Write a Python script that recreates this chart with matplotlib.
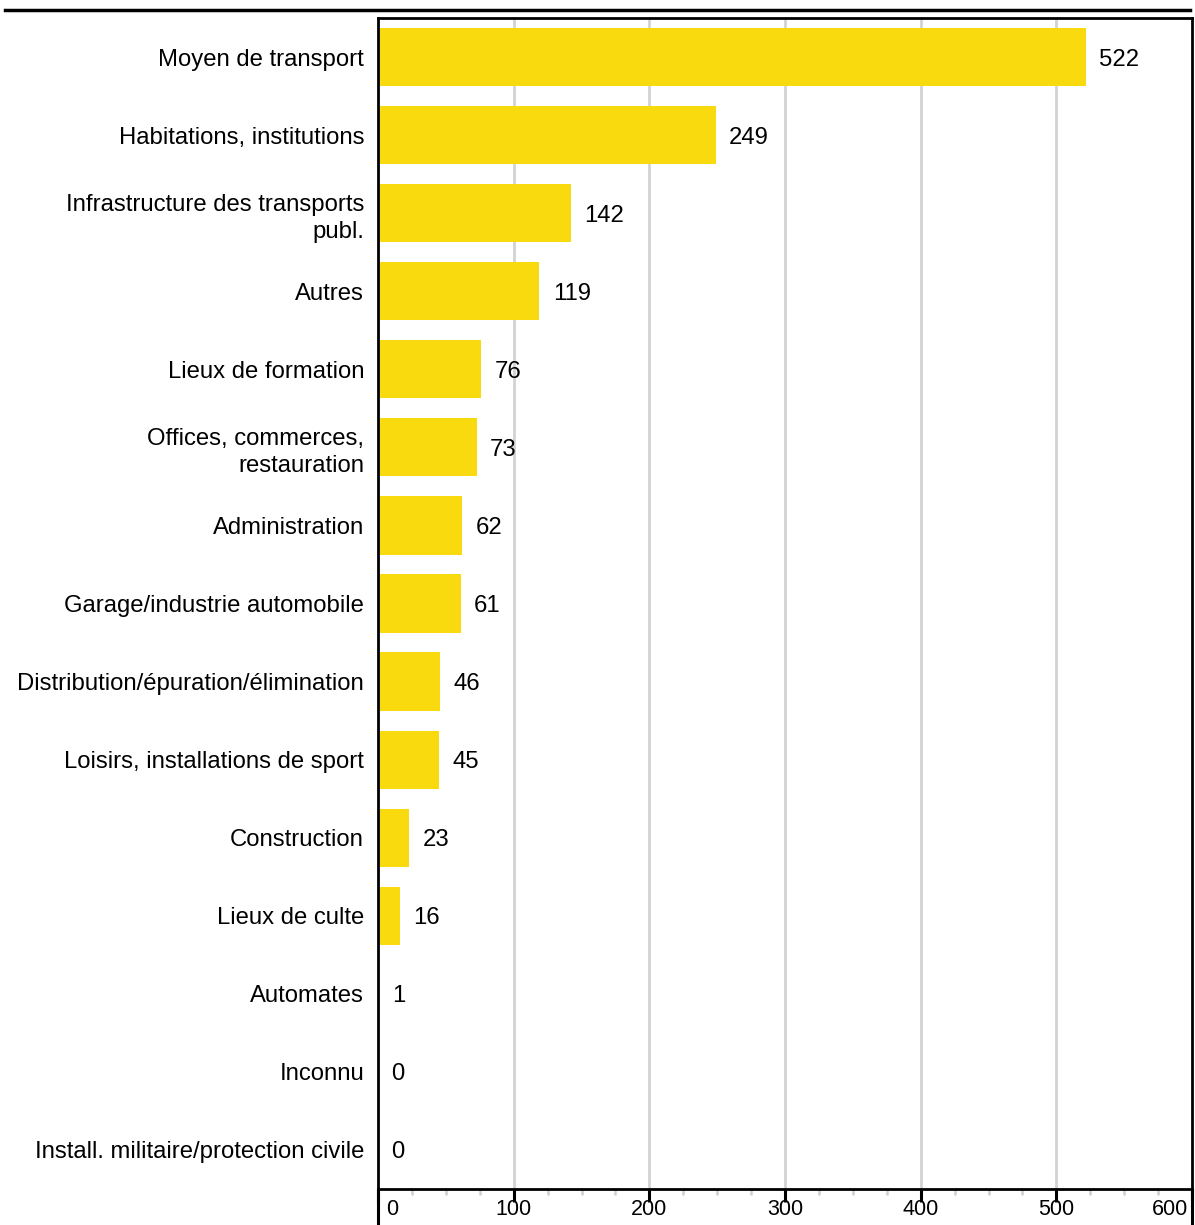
import matplotlib
matplotlib.use("Agg")
import matplotlib.pyplot as plt
from matplotlib.lines import Line2D
from matplotlib.transforms import ScaledTranslation
from matplotlib.ticker import MultipleLocator

categories = [
    "Moyen de transport",
    "Habitations, institutions",
    "Infrastructure des transports\npubl.",
    "Autres",
    "Lieux de formation",
    "Offices, commerces,\nrestauration",
    "Administration",
    "Garage/industrie automobile",
    "Distribution/épuration/élimination",
    "Loisirs, installations de sport",
    "Construction",
    "Lieux de culte",
    "Automates",
    "Inconnu",
    "Install. militaire/protection civile",
]
values = [522, 249, 142, 119, 76, 73, 62, 61, 46, 45, 23, 16, 1, 0, 0]
xticks = [0, 100, 200, 300, 400, 500, 600]
xticklabels = ["0", "100", "200", "300", "400", "500", "600"]

plt.rcParams['font.family'] = ['Liberation Sans', 'DejaVu Sans']
FS = 17.2
BAR = '#F8DA0E'

fig = plt.figure(figsize=(11.95, 12.25), dpi=100)
W, H = 1195, 1225
x0, x1 = 378, 1192
y_top, y_bot = 18, 1189
ax = fig.add_axes([x0 / W, 1 - y_bot / H, (x1 - x0) / W, (y_bot - y_top) / H])

n = len(categories)
pos = list(range(n))
ax.barh(pos, values, height=0.745, color=BAR, zorder=2)
for p, v in zip(pos, values):
    ax.annotate(str(v), (v, p), xytext=(9.5, 0), textcoords='offset points',
                va='center_baseline', ha='left', fontsize=FS, color='black')

ax.set_ylim(n - 0.5, -0.5)
ax.set_xlim(0, 600)
ax.set_yticks(pos)
ax.set_yticklabels(categories, fontsize=FS, linespacing=1.3)
ax.tick_params(axis='y', length=0, pad=10)

ax.set_xticks(xticks)
ax.set_xticklabels(xticklabels, fontsize=15.5)
ax.xaxis.set_minor_locator(MultipleLocator(25))
ax.tick_params(axis='x', which='major', length=9.5, width=2.2, color='black',
               direction='out', pad=-2.5)
ax.tick_params(axis='x', which='minor', length=4.5, width=1.8, color='#cfcfcf',
               direction='out')
labs = ax.get_xticklabels()
labs[0].set_ha('left')
labs[0].set_transform(labs[0].get_transform() + ScaledTranslation(6 / 72, 0, fig.dpi_scale_trans))
labs[-1].set_ha('right')
labs[-1].set_transform(labs[-1].get_transform() + ScaledTranslation(-3 / 72, 0, fig.dpi_scale_trans))

for gx in xticks[1:-1]:
    ax.axvline(gx, color='#d3d3d3', lw=2, zorder=0)

for s in ['top', 'right', 'bottom', 'left']:
    ax.spines[s].set_linewidth(2)
    ax.spines[s].set_color('black')

# borders extend below the axis
ax.plot([0, 0], [0, -0.05], transform=ax.transAxes, color='black', lw=2.2, clip_on=False, solid_capstyle='butt')
ax.plot([1, 1], [0, -0.05], transform=ax.transAxes, color='black', lw=2.2, clip_on=False, solid_capstyle='butt')

# top rule
fig.add_artist(Line2D([5 / W, 1190 / W], [1 - 10 / H, 1 - 10 / H], color='black', lw=2.5,
                      transform=fig.transFigure))

fig.savefig("out.png", dpi=100)
